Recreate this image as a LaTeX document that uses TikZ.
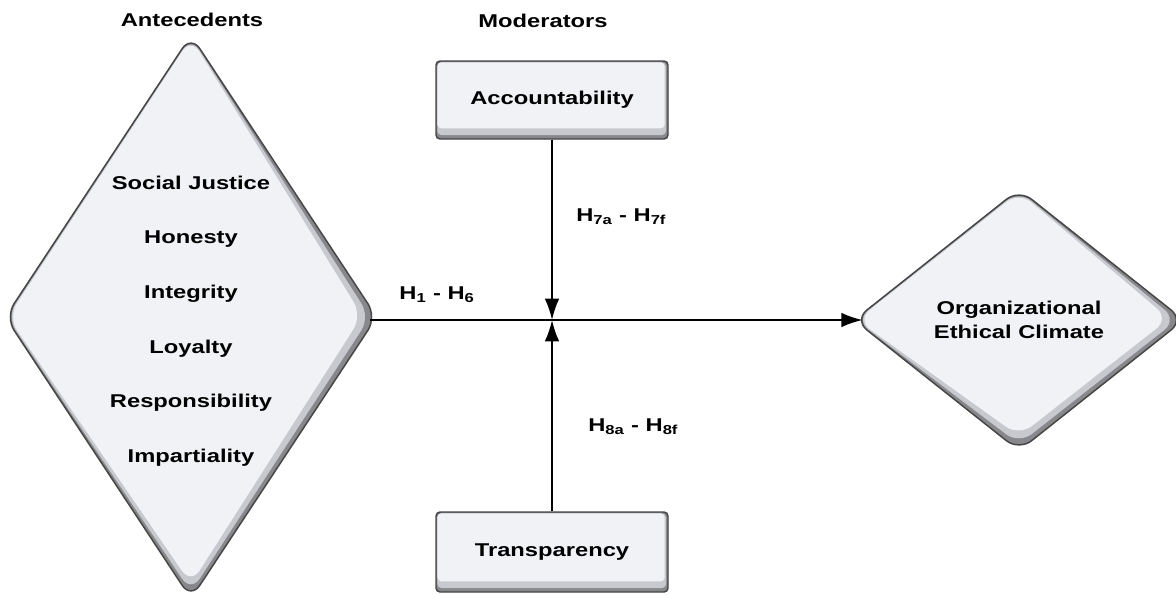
\documentclass[tikz,border=0pt]{standalone}
\usepackage{fontspec}
\setmainfont{Liberation Sans}[FakeStretch=1.28]
\usetikzlibrary{shapes.geometric,arrows.meta}

\definecolor{faceclr}{RGB}{241,242,246}
\definecolor{midclr}{RGB}{200,201,207}
\definecolor{edgeclr}{RGB}{135,135,140}
\definecolor{lineclr}{RGB}{70,70,70}

\tikzset{
  txt/.style={font=\fontsize{13.9}{16}\selectfont\bfseries, inner sep=0.75pt},
  diam/.style={diamond, draw=lineclr, line width=1.1pt, fill=edgeclr, inner sep=0pt, rounded corners=12pt,
    path picture={
      \fill[midclr, rounded corners=12pt] ([yshift=-1pt]path picture bounding box.north) -- ([xshift=-5pt]path picture bounding box.east) -- ([yshift=5pt]path picture bounding box.south) -- ([xshift=1pt]path picture bounding box.west) -- cycle;
      \fill[faceclr, rounded corners=12pt] ([yshift=-2pt]path picture bounding box.north) -- ([xshift=-11pt,yshift=1pt]path picture bounding box.east) -- ([yshift=11pt]path picture bounding box.south) -- ([xshift=2pt]path picture bounding box.west) -- cycle;
    }},
  modbox/.style={rectangle, draw=lineclr, line width=1.1pt, fill=edgeclr, inner sep=0pt, rounded corners=3pt,
    path picture={
      \fill[midclr] ([xshift=1pt,yshift=-1pt]path picture bounding box.north west) rectangle ([xshift=-1.5pt,yshift=3pt]path picture bounding box.south east);
      \fill[faceclr] ([xshift=1pt,yshift=-1pt]path picture bounding box.north west) rectangle ([xshift=-2.5pt,yshift=8pt]path picture bounding box.south east);
    }},
  link/.style={line width=1.5pt, -{Latex[length=16pt,width=11pt]}}
}

\begin{document}
\begin{tikzpicture}[x=0.75pt,y=0.75pt,yscale=-1,xscale=1]
\useasboundingbox[fill=white] (0,0) rectangle (1176,594);

%Shape: Diamond [antecedents]
\node[diam, minimum width=279pt, minimum height=423pt] (ante) at (191,317) {};
%Shape: Diamond [climate]
\node[diam, minimum width=247.5pt, minimum height=196.5pt, txt, align=center, font=\fontsize{13.9}{17.5}\selectfont\bfseries] (climate) at (1019,320) {Organizational\\Ethical Climate};
%Shape: Rectangle [moderators]
\node[modbox, minimum width=174pt, minimum height=58.5pt, txt] (acc) at (552,100) {Accountability};
\node[modbox, minimum width=174pt, minimum height=60pt, txt] (trans) at (552,552) {Transparency};
\coordinate (meet) at (552,320);

% Text Node
\node[txt, align=center, font=\fontsize{13.9}{41}\selectfont\bfseries] (antelist) at (191,321) {Social Justice\\Honesty\\Integrity\\Loyalty\\Responsibility\\Impartiality};
% Text Node
\node[txt] (antehead) at (192,20) {Antecedents};
% Text Node
\node[txt] (modhead) at (543,21) {Moderators};

% Arrows
\draw[link, shorten <=-6pt, shorten >=-7pt] (ante.east |- meet) -- (climate.west);
\draw[link] (acc.south) -- (meet);
\draw[link] (trans.north) -- (meet);

% Text Node
\node[txt] (hmain) at (437,295) {H\textsubscript{1} - H\textsubscript{6}};
% Text Node
\node[txt, anchor=west] (hacc) at (575,217) {H\textsubscript{7a} - H\textsubscript{7f}};
% Text Node
\node[txt, anchor=west] (htrans) at (587,427) {H\textsubscript{8a} - H\textsubscript{8f}};

\end{tikzpicture}
\end{document}
